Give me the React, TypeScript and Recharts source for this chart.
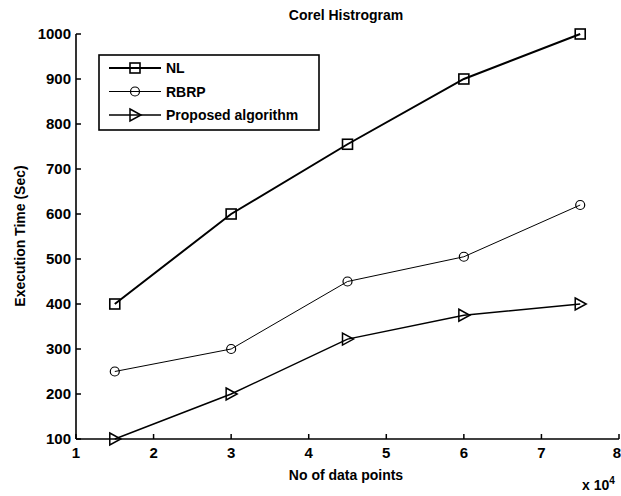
import React from "react";
import { LineChart, Line, XAxis, YAxis, Customized } from "recharts";

const xValues = [1.5, 3, 4.5, 6, 7.5];
const nlValues = [400, 600, 755, 900, 1000];
const rbrpValues = [250, 300, 450, 505, 620];
const proposedValues = [100, 200, 322, 375, 400];
const xTicks = [1, 2, 3, 4, 5, 6, 7, 8];
const yTicks = [100, 200, 300, 400, 500, 600, 700, 800, 900, 1000];
const seriesNames = ["NL", "RBRP", "Proposed algorithm"];

const data = xValues.map((x, i) => ({
  x,
  nl: nlValues[i],
  rbrp: rbrpValues[i],
  proposed: proposedValues[i],
}));

const FONT = '"Liberation Sans", Arial, sans-serif';
const W = 621;
const H = 496;

const SquareDot = (p: any) => {
  const { cx, cy } = p;
  if (cx == null || cy == null) return null;
  return <rect x={cx - 5} y={cy - 5} width={10} height={10} fill="none" stroke="#000" strokeWidth={1.6} />;
};
const CircleDot = (p: any) => {
  const { cx, cy } = p;
  if (cx == null || cy == null) return null;
  return <circle cx={cx} cy={cy} r={4.5} fill="none" stroke="#000" strokeWidth={1.2} />;
};
const TriDot = (p: any) => {
  const { cx, cy } = p;
  if (cx == null || cy == null) return null;
  return (
    <polygon
      points={`${cx - 5},${cy - 6} ${cx + 6},${cy} ${cx - 5},${cy + 6}`}
      fill="none"
      stroke="#000"
      strokeWidth={1.5}
    />
  );
};

const BottomTick = (p: any) => {
  const { x, y, payload } = p;
  const last = payload.value === xTicks[xTicks.length - 1];
  return (
    <g>
      <line x1={x} y1={y} x2={x} y2={y - 5} stroke="#000" strokeWidth={1.5} />
      <text
        x={last ? x + 2 : x}
        y={y + 19}
        textAnchor={last ? "end" : "middle"}
        fontFamily={FONT}
        fontSize={15}
        fontWeight="bold"
        fill="#000"
      >
        {payload.value}
      </text>
    </g>
  );
};
const TopTick = (p: any) => {
  const { x, y } = p;
  return <line x1={x} y1={y} x2={x} y2={y + 5} stroke="#000" strokeWidth={1.5} />;
};
const LeftTick = (p: any) => {
  const { x, y, payload } = p;
  return (
    <g>
      <line x1={x} y1={y} x2={x + 5} y2={y} stroke="#000" strokeWidth={1.5} />
      <text x={x - 5} y={y + 5} textAnchor="end" fontFamily={FONT} fontSize={15} fontWeight="bold" fill="#000">
        {payload.value}
      </text>
    </g>
  );
};
const RightTick = (p: any) => {
  const { x, y } = p;
  return <line x1={x} y1={y} x2={x - 5} y2={y} stroke="#000" strokeWidth={1.5} />;
};

const markers = [SquareDot, CircleDot, TriDot];
const widths = [2, 1, 1.5];

const Overlay = () => (
  <g fontFamily={FONT} fill="#000">
    <g transform="translate(99,55)">
      <rect x={0} y={0} width={220} height={75} fill="#fff" stroke="#000" strokeWidth={1.6} />
      {seriesNames.map((name, i) => {
        const y = 13 + i * 23.5;
        const M = markers[i];
        return (
          <g key={name}>
            <line x1={10} y1={y} x2={62} y2={y} stroke="#000" strokeWidth={widths[i]} />
            <M cx={36} cy={y} />
            <text x={67} y={y + 5} fontSize={14} fontWeight="bold" fill="#000">
              {name}
            </text>
          </g>
        );
      })}
    </g>
    <text x={346} y={20} textAnchor="middle" fontSize={14} fontWeight="bold">
      Corel Histrogram
    </text>
    <text x={346} y={480} textAnchor="middle" fontSize={14} fontWeight="bold">
      No of data points
    </text>
    <text x={20} y={236} textAnchor="middle" fontSize={14} fontWeight="bold" transform="rotate(-90 20 236)" dy={5}>
      Execution Time (Sec)
    </text>
    <text x={582} y={490} fontSize={14} fontWeight="bold">
      x 10
      <tspan dy={-6} fontSize={10}>
        4
      </tspan>
    </text>
  </g>
);

export default function App() {
  return (
    <div style={{ position: "absolute", left: 0, top: 0, width: W, height: H, background: "#fff" }}>
      <LineChart width={W} height={H} data={data} margin={{ top: 34, right: 2, bottom: 27, left: 0 }}>
        <XAxis
          dataKey="x"
          type="number"
          domain={[1, 8]}
          ticks={xTicks}
          allowDataOverflow
          height={30}
          tickSize={0}
          tickMargin={0}
          tickLine={false}
          tick={<BottomTick />}
          axisLine={{ stroke: "#000", strokeWidth: 1.6 }}
          interval={0}
        />
        <XAxis
          xAxisId="top"
          dataKey="x"
          type="number"
          orientation="top"
          domain={[1, 8]}
          ticks={xTicks}
          height={0}
          tickSize={0}
          tickMargin={0}
          tickLine={false}
          tick={<TopTick />}
          axisLine={{ stroke: "#000", strokeWidth: 1.6 }}
          interval={0}
        />
        <YAxis
          type="number"
          domain={[100, 1000]}
          ticks={yTicks}
          width={76}
          tickSize={0}
          tickMargin={0}
          tickLine={false}
          tick={<LeftTick />}
          axisLine={{ stroke: "#000", strokeWidth: 1.6 }}
          interval={0}
        />
        <YAxis
          yAxisId="right"
          orientation="right"
          type="number"
          domain={[100, 1000]}
          ticks={yTicks}
          width={0}
          tickSize={0}
          tickMargin={0}
          tickLine={false}
          tick={<RightTick />}
          axisLine={{ stroke: "#000", strokeWidth: 1.6 }}
          interval={0}
        />
        <Line dataKey="nl" name="NL" stroke="#000" strokeWidth={2} dot={<SquareDot />} isAnimationActive={false} />
        <Line dataKey="rbrp" name="RBRP" stroke="#000" strokeWidth={1} dot={<CircleDot />} isAnimationActive={false} />
        <Line dataKey="proposed" name="Proposed algorithm" stroke="#000" strokeWidth={1.5} dot={<TriDot />} isAnimationActive={false} />
        <Customized component={Overlay} />
      </LineChart>
    </div>
  );
}
